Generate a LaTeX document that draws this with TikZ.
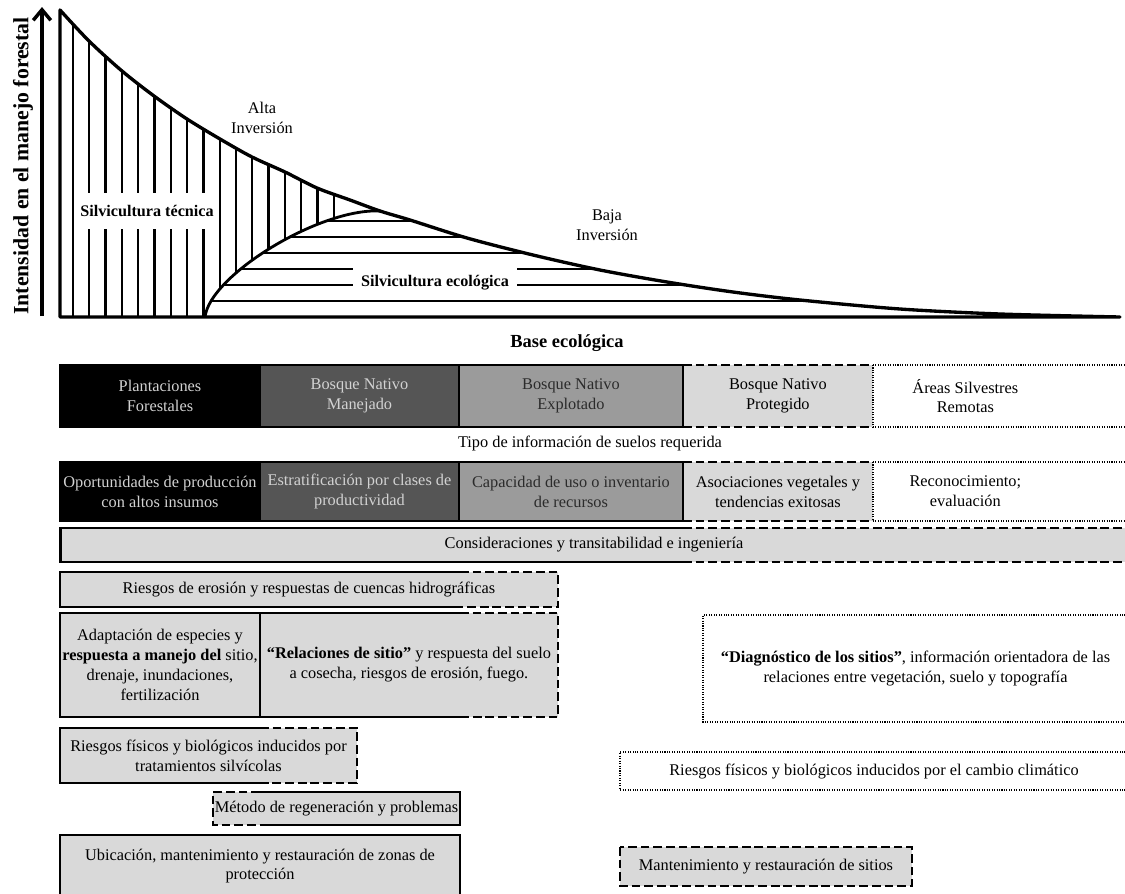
\documentclass[tikz,border=0pt]{standalone}
\usepackage{fontspec}
\setmainfont{Liberation Serif}
\usetikzlibrary{positioning, arrows.meta}
\definecolor{celldark}{HTML}{555555}
\definecolor{cellmid}{HTML}{9B9B9B}
\definecolor{celllight}{HTML}{D9D9D9}
\definecolor{textlight}{HTML}{D2D2D2}
\definecolor{textdark}{HTML}{2B2B2B}
\newcommand{\cellfont}{\fontsize{9.3pt}{11.3pt}\selectfont}

\begin{document}
\begin{tikzpicture}[
  x=0.02cm, y=-0.02cm,
  hatch/.style={line width=1.35pt},
  solidline/.style={line width=1.6pt},
  dashline/.style={line width=1.6pt, dash pattern=on 5pt off 2.2pt},
  dotline/.style={line width=1.2pt, dash pattern=on 0.6pt off 0.8pt},
  cell/.style={rectangle, outer sep=0pt, inner sep=1pt, align=center, font=\cellfont},
  typecell/.style={cell, minimum height=1.24cm},
  infocell/.style={cell, minimum height=1.18cm},
  gaplabel/.style={fill=white, inner ysep=0pt, font=\fontsize{9.2pt}{11pt}\selectfont\bfseries}
]
\useasboundingbox (0,0) rectangle (1125,893);

% split points of the columns
\coordinate (c1) at (260,0);
\coordinate (c2) at (460,0);
\coordinate (c3) at (683,0);
\coordinate (rim) at (1128,0);

% upper chart
\path[save path=\topcurve] (60,317) -- plot[smooth] coordinates {(60,10) (89,41) (122,71) (154,96) (187,119) (220,139) (252,157) (285,172) (317,188) (350,200) (380,211) (410,220) (467,238) (533,255) (600,270) (667,282) (733,292) (800,300) (900,309) (1000,314) (1120,317)} -- cycle;

\begin{scope}
  \path[clip, use path=\topcurve];
  \clip (0,0) -- (380,0) -- (380,211) .. controls (320,208) and (210,275) .. (205,317) -- (0,330) -- cycle;
  \foreach \i in {0,...,16}
    \draw[hatch] ({73+16.3*\i},0) -- ({73+16.3*\i},330);
\end{scope}
\begin{scope}
  \path[clip, use path=\topcurve];
  \clip (205,330) -- (205,317) .. controls (210,275) and (320,208) .. (380,211) -- (380,0) -- (1200,0) -- (1200,330) -- cycle;
  \foreach \i in {1,...,6}
    \draw[hatch] (60,{317-16*\i}) -- (1130,{317-16*\i});
\end{scope}
\draw[line width=1.6pt] (205,317) .. controls (210,275) and (320,208) .. (380,211);
\draw[line width=1.9pt, line join=round, use path=\topcurve];

\node[gaplabel, inner xsep=2pt, minimum height=0.72cm] (tecnica) at (147,211) {Silvicultura técnica};
\node[gaplabel, inner xsep=4.5pt, minimum height=0.64cm] (ecologica) at (435,283) {Silvicultura ecológica};
\node[cell] (alta) at (262,118) {Alta\\Inversión};
\node[cell] (baja) at (607,225) {Baja\\Inversión};

\coordinate (axisfoot) at (42,316);
\coordinate (axistop) at (42,7);
\draw[line width=2pt, -{Straight Barb[length=6pt, width=10pt]}] (axisfoot) -- (axistop);
\node[rotate=90, font=\fontsize{12.4pt}{14pt}\selectfont\bfseries] (ylab) at (23,166) {Intensidad en el manejo forestal};
\node[font=\fontsize{10.5pt}{12pt}\selectfont\bfseries] (base) at (567,343) {Base ecológica};

% forest types
\node[typecell, fill=black, text=textlight, minimum width=4cm] (plant) at (160,396) {Plantaciones\\Forestales};
\node[typecell, fill=celldark, text=textlight, minimum width=3.98cm, right=0pt of plant] (manej) {Bosque Nativo\\Manejado};
\node[typecell, fill=cellmid, text=textdark, minimum width=4.48cm, right=0pt of manej] (explot) {Bosque Nativo\\Explotado};
\node[typecell, fill=celllight, minimum width=3.8cm, right=0pt of explot] (prot) {Bosque Nativo\\Protegido};
\node[typecell, minimum width=3.7cm, right=0pt of prot] (wild) {Áreas Silvestres\\Remotas};
\draw[solidline] (plant.north west) rectangle (explot.south east);
\draw[solidline] (manej.north west) -- (manej.south west) (explot.north west) -- (explot.south west);
\draw[dashline] (prot.north west) -- (prot.north east) (prot.south west) -- (prot.south east);
\draw[dotline] (prot.north east) -- (prot.south east);
\draw[dotline] (wild.north west) -- (wild.north -| rim) (wild.south west) -- (wild.south -| rim);

\node[cell] (tipo) at (590,443) {Tipo de información de suelos requerida};

% soil information
\node[infocell, fill=black, text=textlight, minimum width=4cm] (oport) at (160,491.5) {Oportunidades de producción\\con altos insumos};
\node[infocell, fill=celldark, text=textlight, minimum width=3.98cm, right=0pt of oport] (estrat) {Estratificación por clases de\\productividad};
\node[infocell, fill=cellmid, text=textdark, minimum width=4.48cm, right=0pt of estrat] (capac) {Capacidad de uso o inventario\\de recursos};
\node[infocell, fill=celllight, minimum width=3.8cm, right=0pt of capac] (asoc) {Asociaciones vegetales y\\tendencias exitosas};
\node[infocell, minimum width=3.7cm, right=0pt of asoc] (recon) {Reconocimiento;\\evaluación};
\draw[solidline] (oport.north west) rectangle (capac.south east);
\draw[solidline] (estrat.north west) -- (estrat.south west) (capac.north west) -- (capac.south west);
\draw[dashline] (asoc.north west) -- (asoc.north east) (asoc.south west) -- (asoc.south east);
\draw[dotline] (asoc.north east) -- (asoc.south east);
\draw[dotline] (recon.north west) -- (recon.north -| rim) (recon.south west) -- (recon.south -| rim);

% considerations
\node[cell, fill=celllight, minimum width=21.36cm, minimum height=0.68cm] (consid) at (594,545) {Consideraciones y transitabilidad e ingeniería};
\draw[solidline] (consid.north -| c3) -- (consid.north west) -- (consid.south west) -- (consid.south -| c3);
\draw[dashline] (consid.north -| c3) -- (consid.north east) (consid.south -| c3) -- (consid.south east);

\node[cell, fill=celllight, minimum width=9.96cm, minimum height=0.7cm] (erosion) at (309,589.5) {Riesgos de erosión y respuestas de cuencas hidrográficas};
\draw[solidline] (erosion.north -| c2) -- (erosion.north west) -- (erosion.south west) -- (erosion.south -| c2);
\draw[dashline] (erosion.north -| c2) -- (erosion.north east) -- (erosion.south east) -- (erosion.south -| c2);

\node[cell, fill=celllight, minimum width=4cm, minimum height=2.08cm] (adapt) at (160,665) {Adaptación de especies y\\\textbf{respuesta a manejo del} sitio,\\drenaje, inundaciones,\\fertilización};
\node[cell, fill=celllight, minimum width=5.96cm, minimum height=2.08cm, right=0pt of adapt] (relac) {\textbf{“Relaciones de sitio”} y respuesta del suelo\\a cosecha, riesgos de erosión, fuego.};
\draw[solidline] (adapt.north west) rectangle (adapt.south east);
\draw[solidline] (relac.north west) -- (relac.north -| c2) (relac.south west) -- (relac.south -| c2);
\draw[dashline] (relac.north -| c2) -- (relac.north east) -- (relac.south east) -- (relac.south -| c2);

\node[cell, minimum width=8.5cm, minimum height=2.14cm] (diag) at (915.5,668.5) {\textbf{“Diagnóstico de los sitios"}, información orientadora de las\\relaciones entre vegetación, suelo y topografía};
\draw[dotline] (diag.north east) -- (diag.north west) -- (diag.south west) -- (diag.south east);

\node[cell, fill=celllight, minimum width=5.94cm, minimum height=1.1cm] (trat) at (208.5,755.5) {Riesgos físicos y biológicos inducidos por\\tratamientos silvícolas};
\draw[solidline] (trat.north -| c1) -- (trat.north west) -- (trat.south west) -- (trat.south -| c1);
\draw[dashline] (trat.north -| c1) -- (trat.north east) -- (trat.south east) -- (trat.south -| c1);

\node[cell, minimum width=10.16cm, minimum height=0.76cm] (clima) at (874,771) {Riesgos físicos y biológicos inducidos por el cambio climático};
\draw[dotline] (clima.north east) -- (clima.north west) -- (clima.south west) -- (clima.south east);

\node[cell, fill=celllight, minimum width=4.94cm, minimum height=0.66cm] (regen) at (336.5,808.5) {Método de regeneración y problemas};
\draw[dashline] (regen.north -| c1) -- (regen.north west) -- (regen.south west) -- (regen.south -| c1);
\draw[solidline] (regen.north -| c1) -- (regen.north east) -- (regen.south east) -- (regen.south -| c1);

\node[cell, fill=celllight, minimum width=8cm, minimum height=1.24cm] (ubic) at (260,866) {Ubicación, mantenimiento y restauración de zonas de\\protección};
\draw[solidline] (ubic.north west) rectangle (ubic.south east);

\node[cell, fill=celllight, minimum width=5.84cm, minimum height=0.78cm] (mant) at (766,866.5) {Mantenimiento y restauración de sitios};
\draw[dashline] (mant.north west) rectangle (mant.south east);
\end{tikzpicture}
\end{document}
